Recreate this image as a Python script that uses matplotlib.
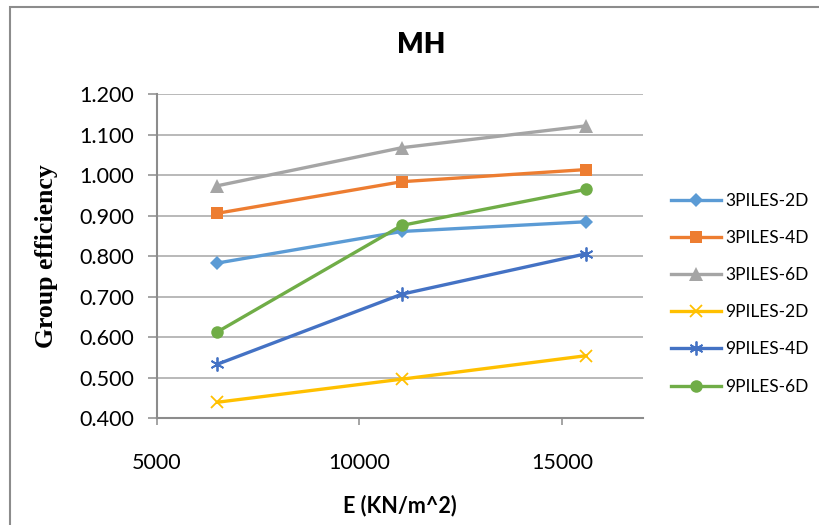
import matplotlib
matplotlib.use("Agg")
import matplotlib.pyplot as plt
from matplotlib.patches import Rectangle

plt.rcParams['font.family'] = ['Lato', 'DejaVu Sans']

# modulus of elasticity (KN/m^2)
E = [6500, 11050, 15600]

# group efficiency per pile arrangement
labels = ['3PILES-2D', '3PILES-4D', '3PILES-6D', '9PILES-2D', '9PILES-4D', '9PILES-6D']
eff_3p_2d = [0.783, 0.861, 0.885]
eff_3p_4d = [0.906, 0.984, 1.014]
eff_3p_6d = [0.974, 1.068, 1.122]
eff_9p_2d = [0.439, 0.496, 0.554]
eff_9p_4d = [0.533, 0.706, 0.806]
eff_9p_6d = [0.613, 0.876, 0.965]

yticks = [0.4, 0.5, 0.6, 0.7, 0.8, 0.9, 1.0, 1.1, 1.2]
xticks = [5000, 10000, 15000]

series = [eff_3p_2d, eff_3p_4d, eff_3p_6d, eff_9p_2d, eff_9p_4d, eff_9p_6d]
colors = ['#5B9BD5', '#ED7D31', '#A5A5A5', '#FFC000', '#4472C4', '#70AD47']
markers = ['D', 's', '^', 'x', (6, 2, 0), 'o']
msizes = [7, 9, 9.5, 9, 10, 9]

fig = plt.figure(figsize=(8.19, 5.25), dpi=100)
ax = fig.add_axes([0.1913, 0.2038, 0.5937, 0.6166])

for vals, lab, c, m, ms in zip(series, labels, colors, markers, msizes):
    stroked = m == 'x' or isinstance(m, tuple)
    ax.plot(E, vals, color=c, lw=2.4, marker=m, markersize=ms,
            markeredgewidth=1.3 if stroked else 0,
            markeredgecolor=c, markerfacecolor=c, label=lab, zorder=3)

ax.set_xlim(5000, 17000)
ax.set_ylim(0.4, 1.2)
ax.set_xticks(xticks)
ax.set_yticks(yticks)
ax.set_yticklabels(['%.3f' % v for v in yticks])
ax.grid(axis='y', color='#A6A6A6', lw=1.1, zorder=0)

for s in ['top', 'right']:
    ax.spines[s].set_visible(False)
for s in ['left', 'bottom']:
    ax.spines[s].set_color('#8C8C8C')
    ax.spines[s].set_linewidth(1.5)
ax.tick_params(axis='y', length=6.5, width=1.1, color='#8C8C8C', labelsize=15.5, pad=10)
ax.tick_params(axis='x', length=5, width=1.1, color='#8C8C8C', labelsize=15.5, pad=20)

fig.text(421 / 819, 1 - 44.6 / 525, 'MH', fontsize=20, fontweight='heavy',
         ha='center', va='center')

ax.set_ylabel('Group efficiency', fontsize=18.5, fontweight='bold',
              family=['Liberation Serif', 'DejaVu Serif'], labelpad=15)
ax.set_xlabel('E (KN/m^2)', fontsize=15.5, fontweight='bold', labelpad=16)

leg = ax.legend(loc='center left', bbox_to_anchor=(670.7 / 819, 1 - 293.7 / 525),
                bbox_transform=fig.transFigure, frameon=False, fontsize=12.5,
                handlelength=2.9, handletextpad=0.25, labelspacing=1.22,
                borderpad=0, borderaxespad=0)

# outer chart border
fig.patches.append(Rectangle((9.5 / 819, -0.05), 1.1, 1 - 6.5 / 525 + 0.05,
                             transform=fig.transFigure, fill=False,
                             edgecolor='#8C8C8C', lw=1.5))

fig.savefig('out.png', dpi=100)
